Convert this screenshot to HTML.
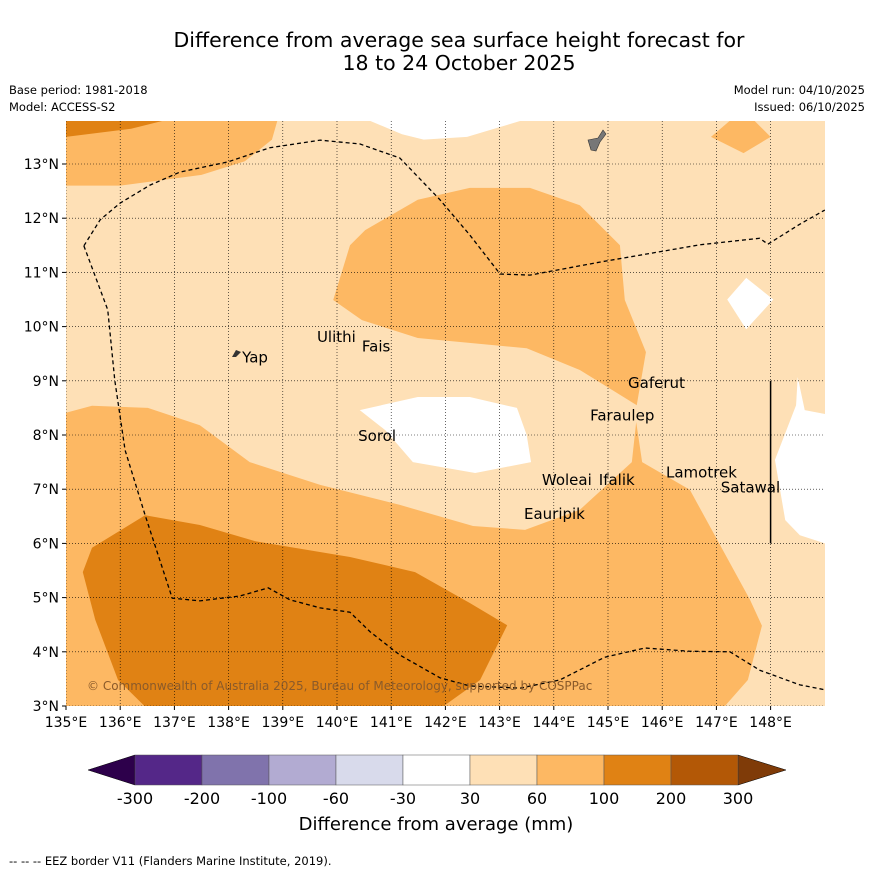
<!DOCTYPE html>
<html><head><meta charset="utf-8"><style>
body{margin:0;background:#fff;}
svg{display:block;font-family:"DejaVu Sans","Liberation Sans",sans-serif;}
</style></head><body>
<svg id="chart" width="873" height="873" viewBox="0 0 873 873" xmlns="http://www.w3.org/2000/svg">
<text x="459" y="47" font-size="20.5" text-anchor="middle">Difference from average sea surface height forecast for</text>
<text x="459" y="70" font-size="20.5" text-anchor="middle">18 to 24 October 2025</text>
<text x="9" y="94" font-size="11.5">Base period: 1981-2018</text>
<text x="9" y="111" font-size="11.5">Model: ACCESS-S2</text>
<text x="865" y="94" font-size="11.5" text-anchor="end">Model run: 04/10/2025</text>
<text x="865" y="111" font-size="11.5" text-anchor="end">Issued: 06/10/2025</text>
<defs><clipPath id="mapclip"><rect x="66" y="121" width="759" height="585"/></clipPath></defs>
<g id="map" clip-path="url(#mapclip)"></g>
<g id="overlay"></g>
<text x="9" y="865" font-size="11.5">--  --  -- EEZ border V11 (Flanders Marine Institute, 2019).</text>
<text x="436" y="830" font-size="18" text-anchor="middle">Difference from average (mm)</text>
</svg>
<script>
const lonTicks=[135,136,137,138,139,140,141,142,143,144,145,146,147,148];
const latTicks=[3,4,5,6,7,8,9,10,11,12,13];
const cbLevels=[-300,-200,-100,-60,-30,30,60,100,200,300];
const cbColors=["#542788","#8073ac","#b2abd2","#d8daeb","#ffffff","#fee0b6","#fdb863","#e08214","#b35806"];
const regionColors=["#fdb863","#e08214","#ffffff","#fdb863","#ffffff","#fdb863","#ffffff","#fdb863","#e08214","#ffffff"];
const regionNames=["region-topleft-60-100","region-corner-100-200","region-top-neutral","region-topright-60-100","region-right-neutral","region-central-60-100","region-center-neutral","region-south-60-100","region-south-100-200","region-east-neutral"];
const regions=[
[[135,13.8],[138.9,13.8],[138.8,13.45],[138.3,13.05],[137.5,12.8],[136,12.6],[135,12.6]],
[[135,13.8],[136.8,13.8],[136.2,13.65],[135,13.5]],
[[140.6,13.8],[141.2,13.55],[141.6,13.45],[142.4,13.5],[143.4,13.8]],
[[146.9,13.5],[147.5,13.2],[148,13.5],[147.7,13.8],[147.25,13.8]],
[[147.2,10.5],[147.55,10.9],[148.05,10.5],[147.55,9.95]],
[[139.93,10.49],[140.24,11.5],[140.52,11.78],[141.49,12.34],[142.45,12.56],[143.56,12.56],[144.48,12.24],[145.22,11.5],[145.31,10.49],[145.7,9.53],[145.53,8.55],[144.48,9.2],[143.5,9.6],[141.49,9.79],[140.46,10.12]],
[[140.42,8.46],[141.49,8.7],[142.45,8.7],[143.32,8.5],[143.5,8.0],[143.58,7.5],[142.55,7.3],[141.4,7.5],[140.89,8.09]],
[[135,8.41],[135.48,8.54],[136.51,8.5],[137.47,8.18],[138.39,7.5],[139.69,7.08],[141.16,6.71],[142.51,6.32],[143.47,6.25],[144.48,6.62],[145.44,7.5],[145.52,8.24],[145.63,7.5],[146.51,6.99],[147.62,4.96],[147.84,4.48],[147.58,3.48],[147.07,2.9],[135,2.9]],
[[135.48,5.92],[136.46,6.52],[137.47,6.34],[138.49,6.04],[140.24,5.75],[141.44,5.47],[142.45,4.9],[143.14,4.49],[142.64,3.48],[141.83,2.9],[136.55,2.9],[135.96,3.48],[135.54,4.59],[135.31,5.47]],
[[148.5,9.07],[148.47,8.55],[148.08,7.54],[148.27,6.43],[148.54,6.15],[149.1,5.97],[149.1,8.37],[148.63,8.46]]
];
const eezSouth=[[135.33,11.49],[135.77,10.31],[135.9,9.01],[136.09,7.72],[136.46,6.52],[136.96,4.99],[137.47,4.94],[138.21,5.03],[138.73,5.18],[139.13,4.96],[139.69,4.81],[140.24,4.73],[140.61,4.37],[141.16,3.94],[141.9,3.52],[142.45,3.37],[143.38,3.33],[144.11,3.48],[144.94,3.9],[145.68,4.07],[146.51,4.01],[147.25,4.0],[147.8,3.66],[148.54,3.39],[149,3.3]];
const eezNorth=[[135.33,11.49],[135.63,11.97],[136,12.28],[136.55,12.61],[137.1,12.85],[137.99,13.04],[138.76,13.3],[139.69,13.44],[140.42,13.37],[141.16,13.11],[141.9,12.34],[142.45,11.69],[143.01,10.97],[143.56,10.95],[144.85,11.19],[146.7,11.51],[147.8,11.63],[147.95,11.52],[148.54,11.89],[149,12.15]];
const islandNames=["Ulithi","Fais","Yap","Gaferut","Faraulep","Sorol","Woleai","Ifalik","Lamotrek","Satawal","Eauripik"];
const islandLon=[139.63,140.46,138.25,145.37,144.67,140.39,143.78,144.83,146.07,147.08,143.45];
const islandLat=[9.81,9.63,9.43,8.96,8.36,7.98,7.17,7.17,7.31,7.03,6.54];
const X=lon=>66+(lon-135)*54.2;
const Y=lat=>706-(lat-3)*54.2;
const NS="http://www.w3.org/2000/svg";
const map=document.getElementById('map'),ov=document.getElementById('overlay');
function mk(t,a,p){const e=document.createElementNS(NS,t);for(const k in a)e.setAttribute(k,a[k]);p.appendChild(e);return e;}
const bg=mk('rect',{x:66,y:121,width:759,height:585,fill:"#fee0b6"},map);


regions.forEach((r,i)=>{
 const p=mk('polygon',{points:r.map(q=>X(q[0])+','+Y(q[1])).join(' '),fill:regionColors[i]},map);
 
 
});
const guam=mk('path',{d:"M588,140 L598,138 L603,130 L606,134 L600,142 L596,151 L591,150 Z",fill:"#777",stroke:"#333","stroke-width":0.6},map);


const yap=mk('path',{d:"M232,357 L236,350 L241,352 L236,357 Z",fill:"#333"},map);


lonTicks.forEach(l=>{const g=mk('line',{x1:X(l),x2:X(l),y1:121,y2:706,stroke:"#000","stroke-width":0.6,"stroke-dasharray":"1,2"},map);
 
 });
latTicks.forEach(l=>{const g=mk('line',{x1:66,x2:825,y1:Y(l),y2:Y(l),stroke:"#000","stroke-width":0.6,"stroke-dasharray":"1,2"},map);
 
 });
[eezSouth,eezNorth].forEach((ln,i)=>{const e=mk('polyline',{points:ln.map(q=>X(q[0])+','+Y(q[1])).join(' '),fill:"none",stroke:"#000","stroke-width":1.3,"stroke-dasharray":"4,3"},map);
 
 });
const vl=mk('line',{x1:X(148),x2:X(148),y1:Y(9),y2:Y(6),stroke:"#000","stroke-width":1.5},map);


islandNames.forEach((n,i)=>{const t=mk('text',{x:X(islandLon[i]),y:Y(islandLat[i])+5,"font-size":15,fill:"#000"},map);t.textContent=n;
 
 });
const cp=mk('text',{x:87,y:690,"font-size":12,fill:"#8a5a2a"},map);cp.textContent="© Commonwealth of Australia 2025, Bureau of Meteorology, supported by COSPPac";


lonTicks.forEach(l=>{mk('line',{x1:X(l),x2:X(l),y1:706,y2:710,stroke:"#000"},ov);
 const t=mk('text',{x:X(l),y:727,"font-size":14,"text-anchor":"middle"},ov);t.textContent=l+"°E";
 
 });
latTicks.forEach(l=>{mk('line',{x1:62,x2:66,y1:Y(l),y2:Y(l),stroke:"#000"},ov);
 const t=mk('text',{x:59,y:Y(l)+5,"font-size":14,"text-anchor":"end"},ov);t.textContent=l+"°N";
 
 });
const cb0=135,cbw=67,cy=755,ch=30;
const lt=mk('polygon',{points:`88,770 ${cb0},${cy} ${cb0},${cy+ch}`,fill:"#2d004b",stroke:"#000","stroke-width":0.5},ov);


const rx=cb0+cbw*cbColors.length;
const rt=mk('polygon',{points:`${rx},${cy} 786,770 ${rx},${cy+ch}`,fill:"#7f3b08",stroke:"#000","stroke-width":0.5},ov);


cbColors.forEach((c,i)=>{const r=mk('rect',{x:cb0+i*cbw,y:cy,width:cbw,height:ch,fill:c,stroke:"#555","stroke-width":0.5},ov);
 
 });
cbLevels.forEach((v,i)=>{const t=mk('text',{x:cb0+i*cbw,y:804,"font-size":16,"text-anchor":"middle"},ov);t.textContent=v;
 
 });
</script>
</body></html>
